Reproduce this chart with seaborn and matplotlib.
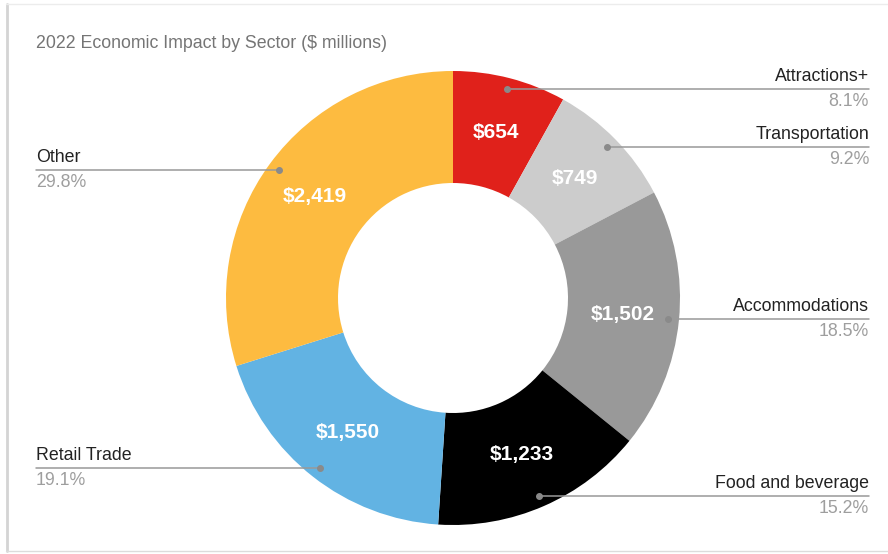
import numpy as np
import matplotlib
matplotlib.use("Agg")
import matplotlib.pyplot as plt
import seaborn as sns
from matplotlib.lines import Line2D

# data
sectors = ['Attractions+', 'Transportation', 'Accommodations',
           'Food and beverage', 'Retail Trade', 'Other']
values = [654, 749, 1502, 1233, 1550, 2419]
colors = ['#e0211b', '#cccccc', '#999999', '#000000', '#62b3e3', '#fdbb40']
title = '2022 Economic Impact by Sector ($ millions)'

sns.set_theme(style='white')
plt.rcParams['font.family'] = ['Liberation Sans', 'DejaVu Sans']

W, H = 888, 554
fig = plt.figure(figsize=(W / 100, H / 100), dpi=100)
ax = fig.add_axes([0, 0, 1, 1])

# pixel-like coordinates (y down), so clockwise from top = counterclock in data
cx, cy, R, r_in = 453, 298, 227, 115
total = sum(values)
wedges, texts, autotexts = ax.pie(
    values, colors=colors, startangle=-90, counterclock=True,
    center=(cx, cy), radius=R, frame=False,
    wedgeprops=dict(width=R - r_in, linewidth=0),
    autopct=lambda p: f'${p * total / 100:,.0f}',
    pctdistance=(R + r_in) / 2 / R,
    textprops=dict(color='white', fontsize=15, fontweight='bold'))

ax.set_xlim(0, W)
ax.set_ylim(H, 0)
ax.set_aspect('auto')
ax.axis('off')

# leader lines with labels
for w, name, v in zip(wedges, sectors, values):
    mid = np.deg2rad((w.theta1 + w.theta2) / 2)
    dx = cx + 0.95 * R * np.cos(mid)
    dy = cy + 0.95 * R * np.sin(mid)
    pct = f'{v / total * 100:.1f}%'
    if dx > cx:
        xe, ha = 869, 'right'
    else:
        xe, ha = 36, 'left'
    ax.plot([dx, xe], [dy, dy], color='#999999', lw=1.1, zorder=3)
    ax.plot(dx, dy, 'o', color='#8a8a8a', ms=4, zorder=4)
    ax.text(xe, dy - 12.5, name, ha=ha, va='center', fontsize=12.8, color='#222222')
    ax.text(xe, dy + 12.5, pct, ha=ha, va='center', fontsize=12.8, color='#9e9e9e')

ax.text(36, 43, title, ha='left', va='center', fontsize=12.8, color='#757575')

# card frame
fig.add_artist(Line2D([6.5 / W, 6.5 / W], [3 / H, 1 - 4 / H], transform=fig.transFigure,
                      color='#d4d4d4', lw=2))
fig.add_artist(Line2D([6 / W, 1], [1 - 4 / H, 1 - 4 / H], transform=fig.transFigure,
                      color='#ececec', lw=1))
fig.add_artist(Line2D([6 / W, 1], [3 / H, 3 / H], transform=fig.transFigure,
                      color='#dcdcdc', lw=1))

plt.savefig('out.png', dpi=100)
